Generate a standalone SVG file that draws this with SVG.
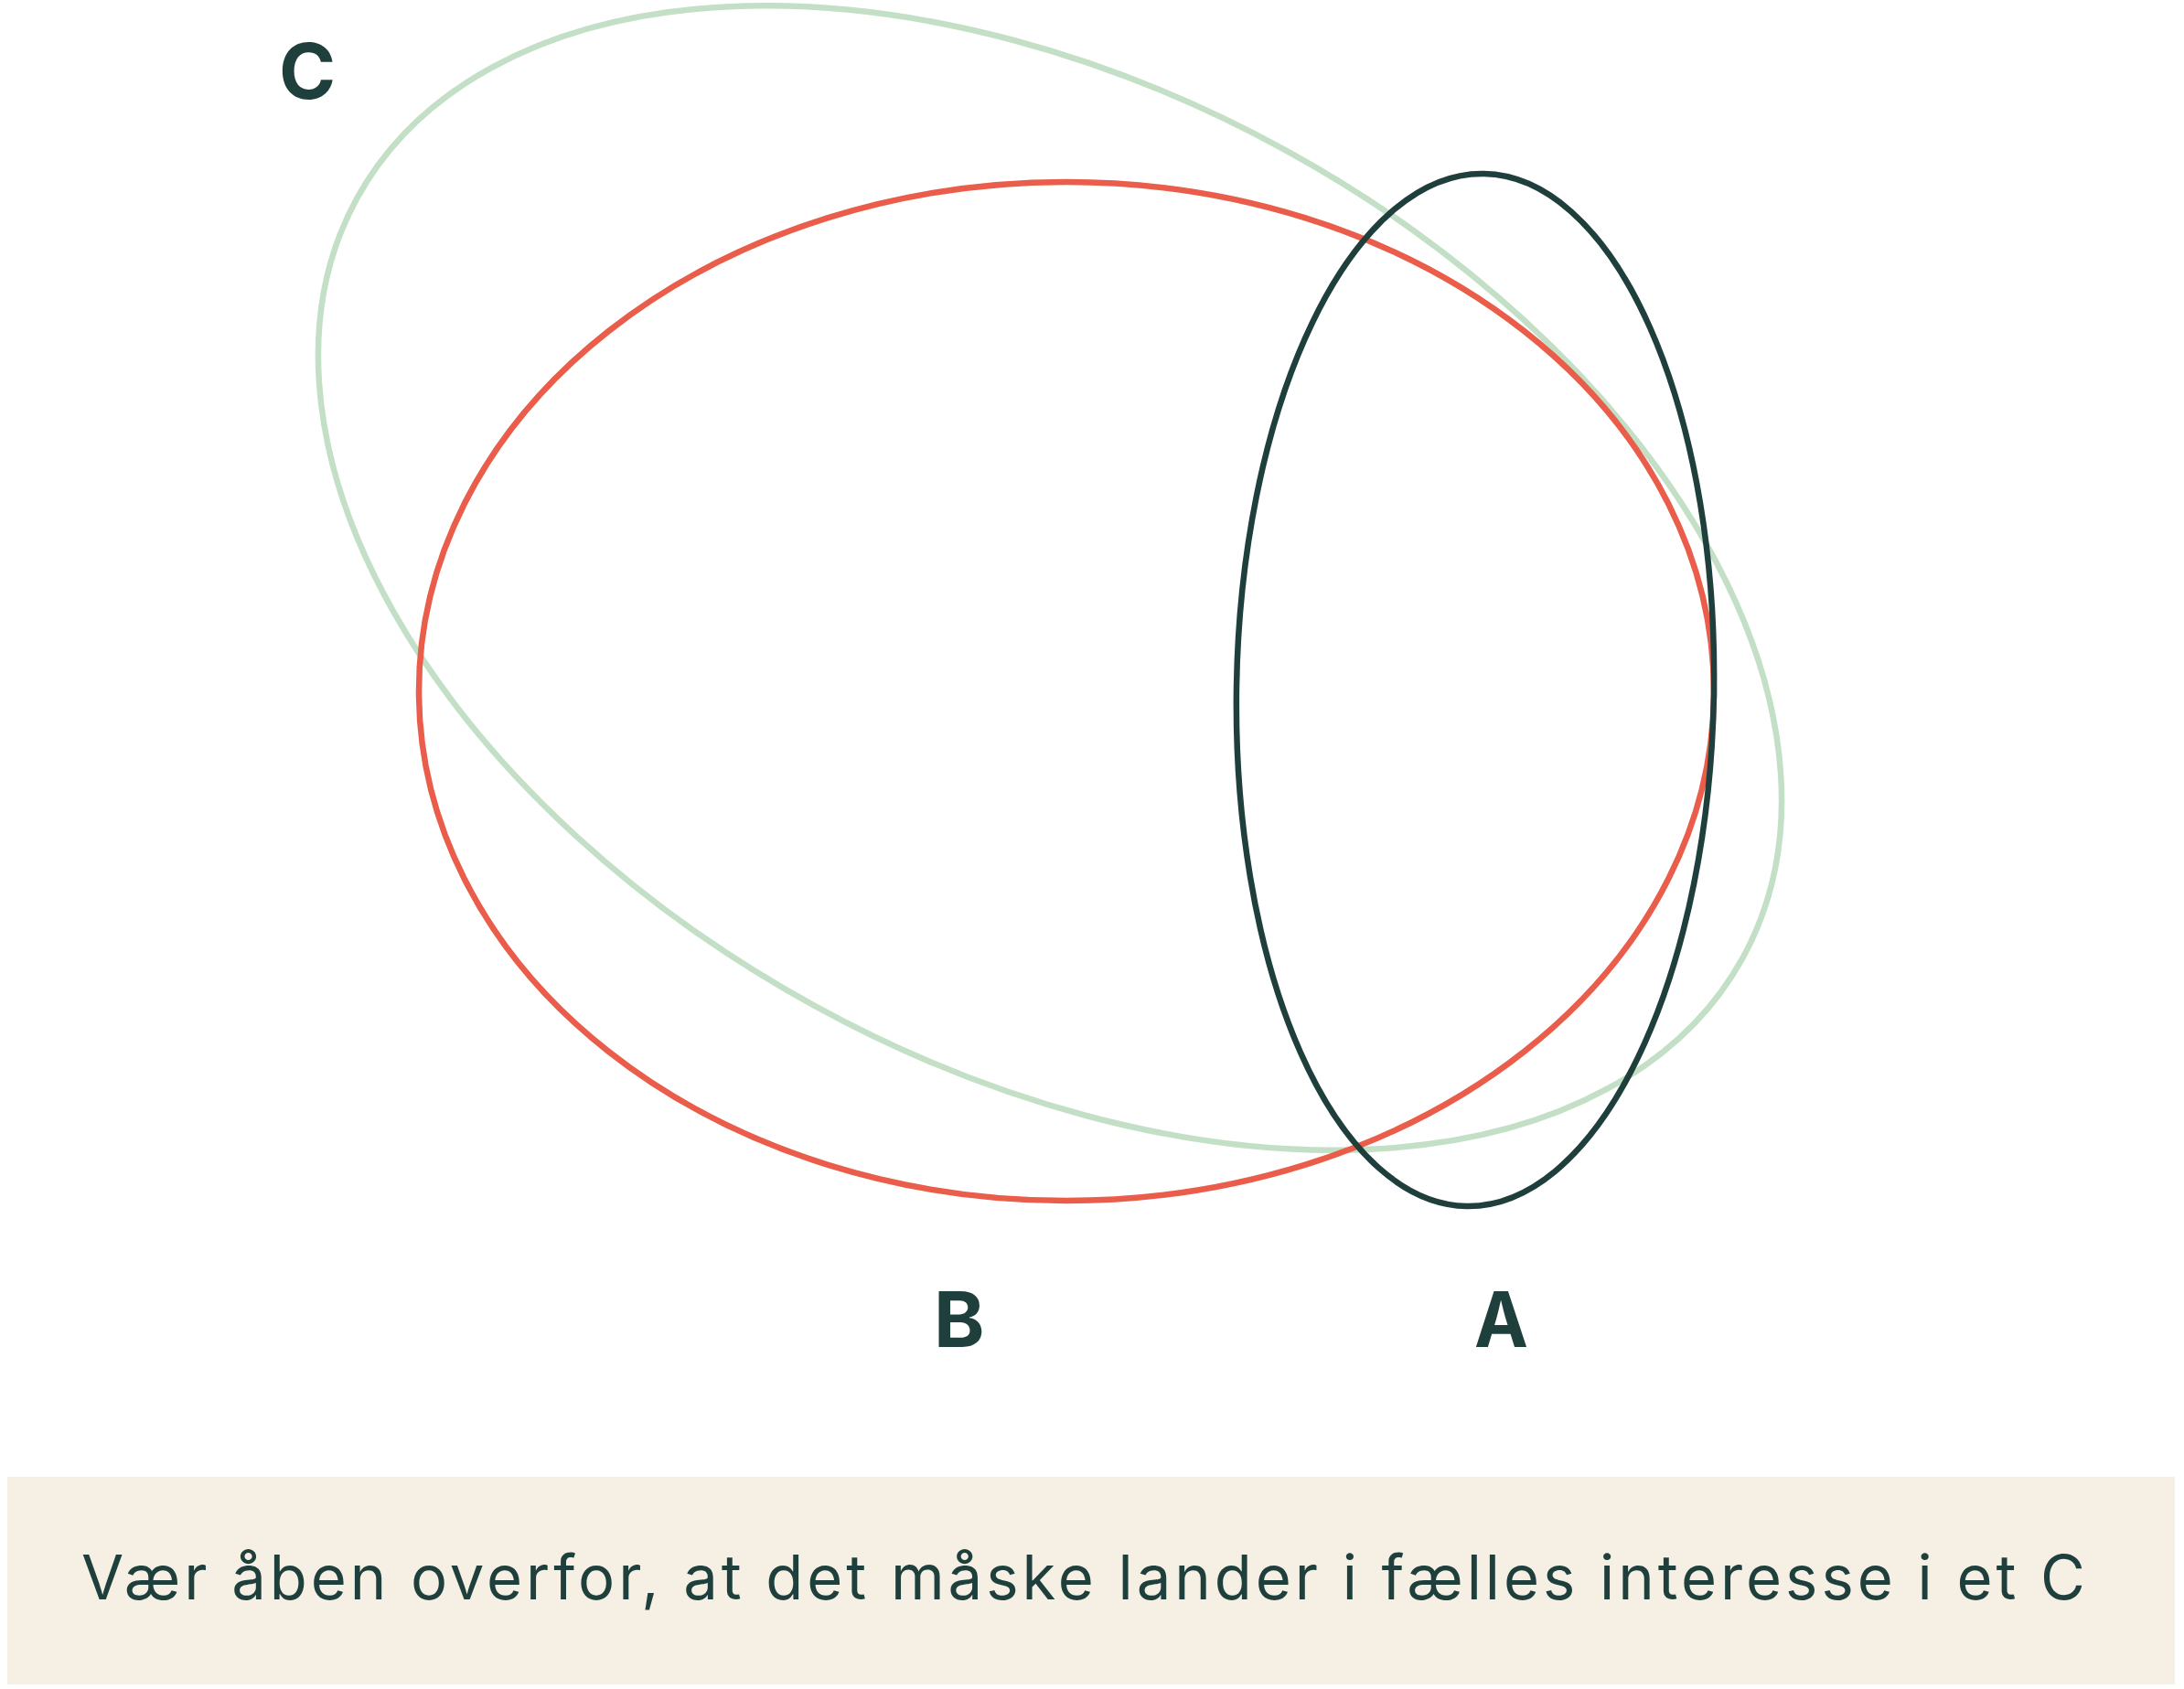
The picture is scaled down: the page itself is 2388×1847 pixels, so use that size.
<svg xmlns="http://www.w3.org/2000/svg" width="2388" height="1847" viewBox="0 0 2388 1847">
  <style>
    .ring { fill: none; stroke-width: 6.5; }
    .label { font-family: Inter, "Liberation Sans", sans-serif; font-weight: 700; font-size: 84px; fill: #1F3F3D; }
    .caption { font-family: Inter, "Liberation Sans", sans-serif; font-weight: 400; font-size: 67px; fill: #1F3F3D; }
  </style>
  <rect width="2388" height="1847" fill="#FFFFFF"/>
  <g id="C">
    <ellipse class="ring" cx="1148" cy="632" rx="864" ry="534" transform="rotate(28.7 1148 632)" stroke="#C3E0C7"/>
    <text class="label" x="305" y="108">C</text>
  </g>
  <g id="B">
    <ellipse class="ring" cx="1166" cy="756" rx="708" ry="557" stroke="#E95D4A"/>
    <text class="label" x="1021" y="1473">B</text>
  </g>
  <g id="A">
    <ellipse class="ring" cx="1613" cy="754.5" rx="261" ry="564.5" transform="rotate(0.96 1613 754.5)" stroke="#1F3F3D"/>
    <text class="label" x="1612" y="1473" textLength="59" lengthAdjust="spacingAndGlyphs">A</text>
  </g>
  <g id="connectors"></g>
  <g id="caption">
    <rect x="8" y="1615" width="2370" height="227" fill="#F5EFE4"/>
    <text class="caption" x="89" y="1749" textLength="2191" lengthAdjust="spacing">Vær åben overfor, at det måske lander i fælles interesse i et C</text>
  </g>
</svg>
